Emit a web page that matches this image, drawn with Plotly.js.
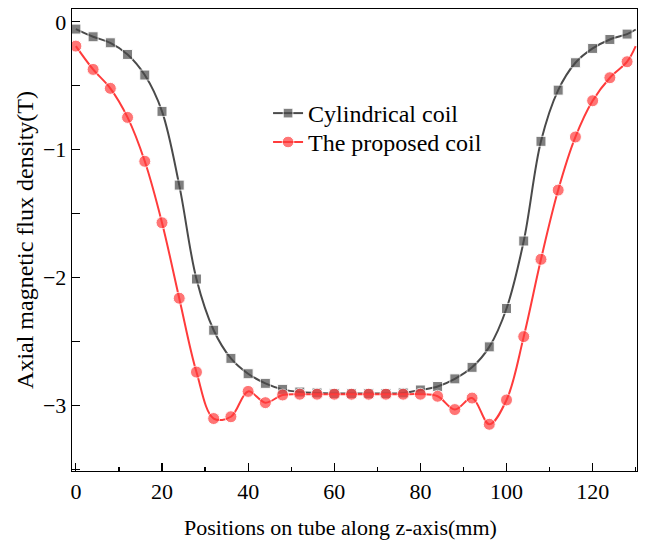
<!DOCTYPE html>
<html>
<head>
<meta charset="utf-8">
<script src="https://cdn.plot.ly/plotly-3.0.1.min.js"></script>
<style>html,body{margin:0;padding:0;background:#fff;}#chart{width:647px;height:544px;}</style>
</head>
<body>
<div id="chart"></div>
<script>
// Positions along the tube (mm)
const positions = [0,4,8,12,16,20,24,28,32,36,40,44,48,52,56,60,64,68,72,76,80,84,88,92,96,100,104,108,112,116,120,124,128,130];
// Axial magnetic flux density (T)
const cylindricalCoil = [-0.057,-0.117,-0.164,-0.255,-0.416,-0.70,-1.276,-2.01,-2.41,-2.63,-2.75,-2.825,-2.872,-2.893,-2.90,-2.905,-2.905,-2.905,-2.905,-2.90,-2.877,-2.85,-2.79,-2.70,-2.54,-2.24,-1.713,-0.934,-0.534,-0.32,-0.208,-0.138,-0.096,-0.06];
const proposedCoil = [-0.19,-0.372,-0.52,-0.747,-1.09,-1.57,-2.16,-2.737,-3.10,-3.086,-2.888,-2.976,-2.916,-2.91,-2.91,-2.91,-2.91,-2.91,-2.91,-2.91,-2.91,-2.926,-3.03,-2.94,-3.145,-2.955,-2.46,-1.856,-1.315,-0.90,-0.617,-0.437,-0.312,-0.19];
const seriesNames = ["Cylindrical coil", "The proposed coil"];
const xTitle = "Positions on tube along z-axis(mm)";
const yTitle = "Axial magnetic flux density(T)";

const FONT = '"Liberation Serif", "Times New Roman", serif';
const sizeFor = (base) => positions.map(p => (p % 4 === 0 ? base : 0));

const traces = [
  {
    x: positions, y: cylindricalCoil, name: seriesNames[0], legend: 'legend',
    type: 'scatter', mode: 'lines+markers',
    line: {color: '#4a4a4a', width: 2, shape: 'spline', smoothing: 1},
    marker: {symbol: 'square', color: '#4a4a4a', size: sizeFor(10)}
  },
  {
    x: positions, y: proposedCoil, name: seriesNames[1], legend: 'legend2',
    type: 'scatter', mode: 'lines+markers',
    line: {color: '#ff3b3b', width: 2, shape: 'spline', smoothing: 1},
    marker: {symbol: 'circle', color: '#ff3b3b', size: sizeFor(12)}
  }
];

const legendBase = {
  xanchor: 'left', yanchor: 'top',
  bgcolor: 'rgba(0,0,0,0)', borderwidth: 0,
  font: {family: FONT, size: 24, color: '#000'},
  itemwidth: 30
};

const layout = {
  width: 647, height: 544,
  margin: {l: 72, r: 10, t: 9, b: 73},
  paper_bgcolor: '#fff', plot_bgcolor: '#fff',
  font: {family: FONT, size: 22, color: '#000'},
  showlegend: true,
  legend: Object.assign({}, legendBase, {x: 0.347, y: 0.8225}),
  legend2: Object.assign({}, legendBase, {x: 0.347, y: 0.76}),
  xaxis: {
    range: [-0.9, 130.3],
    tickmode: 'linear', tick0: 0, dtick: 20,
    ticks: 'inside', ticklen: 8, tickwidth: 1.2, tickcolor: '#000',
    minor: {dtick: 10, ticks: 'inside', ticklen: 4, tickwidth: 1.2, tickcolor: '#000'},
    showline: true, linecolor: '#000', linewidth: 1.3, mirror: true,
    showgrid: false, zeroline: false,
    tickfont: {family: FONT, size: 22, color: '#000'}
  },
  yaxis: {
    range: [-3.51, 0.1],
    tickmode: 'linear', tick0: 0, dtick: 1,
    ticks: 'inside', ticklen: 8, tickwidth: 1.2, tickcolor: '#000',
    minor: {dtick: 0.5, ticks: 'inside', ticklen: 8, tickwidth: 1.2, tickcolor: '#000'},
    showline: true, linecolor: '#000', linewidth: 1.3, mirror: true,
    showgrid: false, zeroline: false,
    tickfont: {family: FONT, size: 22, color: '#000'},
    title: {text: yTitle, font: {family: FONT, size: 24, color: '#000'}, standoff: 2}
  },
  annotations: [{
    text: xTitle, xref: 'paper', yref: 'paper',
    x: 0.475, y: -0.122, xanchor: 'center', yanchor: 'middle',
    showarrow: false, font: {family: FONT, size: 22, color: '#000'}
  }]
};

Plotly.newPlot('chart', traces, layout, {displayModeBar: false, staticPlot: true});
</script>
</body>
</html>
